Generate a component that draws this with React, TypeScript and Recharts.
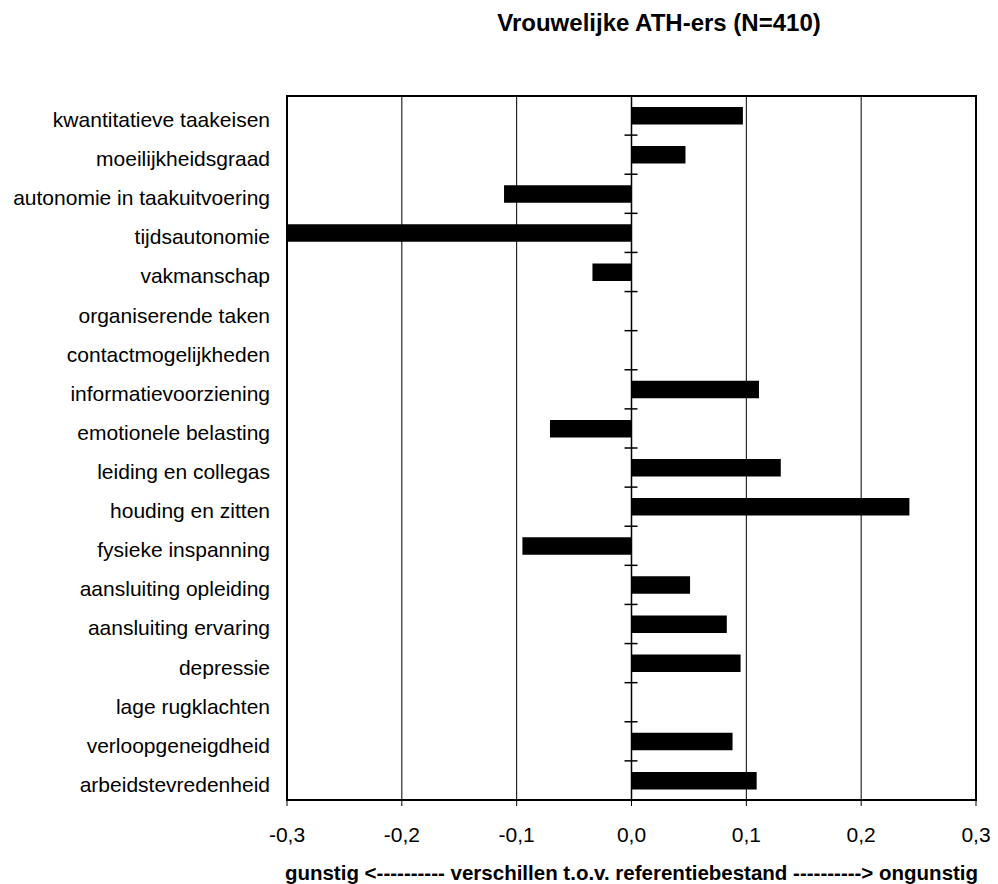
import React from 'react';
import {
    BarChart,
    Bar,
    XAxis,
    YAxis,
    CartesianGrid,
    ReferenceLine,
    ReferenceArea,
} from 'recharts';

const categories = [
    'kwantitatieve taakeisen',
    'moeilijkheidsgraad',
    'autonomie in taakuitvoering',
    'tijdsautonomie',
    'vakmanschap',
    'organiserende taken',
    'contactmogelijkheden',
    'informatievoorziening',
    'emotionele belasting',
    'leiding en collegas',
    'houding en zitten',
    'fysieke inspanning',
    'aansluiting opleiding',
    'aansluiting ervaring',
    'depressie',
    'lage rugklachten',
    'verloopgeneigdheid',
    'arbeidstevredenheid',
];

const verschillen = [
    0.097, 0.047, -0.111, -0.305, -0.034, 0, 0, 0.111, -0.071,
    0.13, 0.242, -0.095, 0.051, 0.083, 0.095, 0, 0.088, 0.109,
];

const xTicks = [-0.3, -0.2, -0.1, 0, 0.1, 0.2, 0.3];

const title = 'Vrouwelijke ATH-ers (N=410)';
const xLabel = 'gunstig <---------- verschillen t.o.v. referentiebestand ----------> ongunstig';

const data = categories.map((name, i) => ({ name, value: verschillen[i] }));

const FONT = '"Liberation Sans", Arial, Helvetica, sans-serif';

// zero line with the little category-boundary ticks crossing it
function ZeroLine(props: any) {
    const { x1, y1, y2 } = props;
    const top = Math.min(y1, y2);
    const bottom = Math.max(y1, y2);
    const step = (bottom - top) / categories.length;
    const marks = [];
    for (let i = 0; i <= categories.length; i++) {
        const y = top + i * step;
        marks.push(<line key={i} x1={x1 - 7} x2={x1 + 6} y1={y} y2={y} stroke="#000" strokeWidth={1.5} />);
    }
    return (
        <g>
            <line x1={x1} x2={x1} y1={top} y2={bottom} stroke="#000" strokeWidth={1.5} />
            {marks}
        </g>
    );
}

export default function App() {
    return (
        <div style={{ position: 'absolute', left: 0, top: 0, width: 998, height: 884, background: '#fff', fontFamily: FONT }}>
            <div
                style={{
                    position: 'absolute',
                    left: 459,
                    width: 400,
                    top: 11,
                    textAlign: 'center',
                    fontSize: 24,
                    fontWeight: 'bold',
                    color: '#000',
                    lineHeight: '24px',
                    whiteSpace: 'nowrap',
                }}
            >
                {title}
            </div>
            <BarChart
                width={998}
                height={884}
                data={data}
                layout="vertical"
                margin={{ top: 96, right: 22, bottom: 0, left: 0 }}
            >
                <CartesianGrid horizontal={false} stroke="#000" strokeWidth={1} />
                <XAxis
                    type="number"
                    domain={[-0.3, 0.3]}
                    ticks={xTicks}
                    allowDataOverflow
                    tickFormatter={(v) => v.toFixed(1).replace('.', ',')}
                    axisLine={{ stroke: '#000', strokeWidth: 2 }}
                    tickLine={{ stroke: '#000' }}
                    tickSize={6}
                    tickMargin={21}
                    tick={{ fill: '#000', fontSize: 21, fontFamily: FONT }}
                    label={{
                        value: xLabel,
                        position: 'insideBottom',
                        offset: 4,
                        fill: '#000',
                        fontSize: 20.5,
                        fontWeight: 'bold',
                        fontFamily: FONT,
                    }}
                    height={84}
                />
                <YAxis
                    type="category"
                    dataKey="name"
                    width={287}
                    interval={0}
                    tickLine={false}
                    tickMargin={11}
                    axisLine={{ stroke: '#000', strokeWidth: 2 }}
                    tick={{ fill: '#000', fontSize: 21, fontFamily: FONT, dy: 4 }}
                />
                <ReferenceArea x1={-0.3} x2={0.3} fill="none" stroke="#000" strokeWidth={2} fillOpacity={0} />
                <Bar dataKey="value" fill="#000" barSize={17.5} isAnimationActive={false} />
                <ReferenceLine x={0} shape={ZeroLine} />
            </BarChart>
        </div>
    );
}
